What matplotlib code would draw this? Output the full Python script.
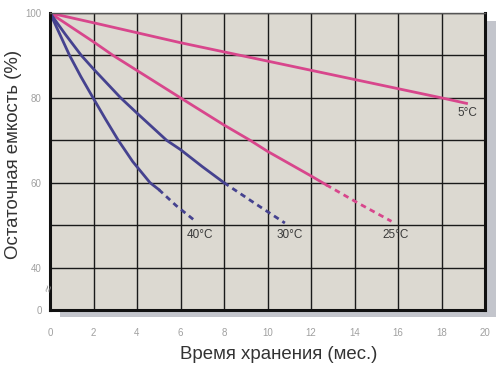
import numpy as np
import matplotlib.pyplot as plt

plt.rcParams['font.family'] = ['Liberation Sans', 'DejaVu Sans']

# 5 C - solid line
t5 = [0, 2, 6, 12, 18, 19.15]
c5 = [100, 97.7, 93, 86.5, 80, 78.7]

# 25 C
t25 = [0, 2, 2.9, 6, 8, 9.2, 10, 12, 12.7]
c25 = [100, 93.2, 90, 80, 73.6, 70, 67.4, 61.6, 59.5]
t25d = [12.7, 14.2, 15.7]
c25d = [59.5, 55.1, 50.9]

# 30 C
t30 = [0, 0.7, 1.44, 2, 3.25, 4, 5.36, 6, 7, 8]
c30 = [100, 95, 90, 86.8, 80, 76.4, 70, 67.8, 63.8, 60]
t30d = [8, 9.4, 10.8]
c30d = [60, 55.2, 50.5]

# 40 C
t40 = [0, 0.45, 0.9, 1.42, 1.98, 2.55, 3.14, 3.8, 4.6, 5.0]
c40 = [100, 95, 90, 85, 80, 75, 70, 65, 60, 58.4]
t40d = [5.0, 5.8, 6.6]
c40d = [58.4, 54.6, 51.3]

labels = ['5°C', '25°C', '30°C', '40°C']
label_x = [19.2, 15.9, 11.0, 6.9]
label_y = [76.4, 47.6, 47.6, 47.6]

xticks = [0, 2, 4, 6, 8, 10, 12, 14, 16, 18, 20]
ygrid = [30, 40, 50, 60, 70, 80, 90, 100]
yticklabels = ['0', '40', '', '60', '', '80', '', '100']

PINK = '#d8468c'
BLUE = '#45428f'

fig = plt.figure(figsize=(4.96, 3.68), dpi=100)

# shadow behind the plot area
shadow = fig.add_axes([60/496, 1-317/368, 436/496, 296/368])
shadow.set_facecolor('#c3c5cc')
shadow.set_xticks([]); shadow.set_yticks([])
for s in shadow.spines.values():
    s.set_visible(False)

ax = fig.add_axes([50/496, 1-310/368, 435/496, 297/368])
ax.set_facecolor('#dcd9d1')
ax.set_xlim(0, 20)
ax.set_ylim(30, 100)
ax.grid(True, color='#1a1a1a', linewidth=1.0)
ax.set_axisbelow(True)

ax.set_xticks(xticks)
ax.set_xticklabels([str(v) for v in xticks])
ax.set_yticks(ygrid)
ax.set_yticklabels(yticklabels)
ax.tick_params(length=0, colors='#a0a0a0', labelsize=7)
ax.tick_params(axis='x', pad=13)
ax.tick_params(axis='y', pad=6)

for s in ['left', 'bottom', 'right']:
    ax.spines[s].set_linewidth(2.2)
    ax.spines[s].set_color('#111111')
ax.spines['top'].set_linewidth(1)
ax.spines['top'].set_color('#555555')

lw = 2.0
ax.plot(t5, c5, color=PINK, lw=lw)
ax.plot(t25, c25, color=PINK, lw=lw)
ax.plot(t25d, c25d, color=PINK, lw=lw, ls=(0, (2, 1.6)))
ax.plot(t30, c30, color=BLUE, lw=lw)
ax.plot(t30d, c30d, color=BLUE, lw=lw, ls=(0, (2, 1.6)))
ax.plot(t40, c40, color=BLUE, lw=lw)
ax.plot(t40d, c40d, color=BLUE, lw=lw, ls=(0, (2, 1.6)))

for lab, x, y in zip(labels, label_x, label_y):
    ax.text(x, y, lab, ha='center', va='center', fontsize=8.5, color='#3a3a3a')

# axis break mark
ax.text(0, 35, '≈', ha='center', va='center', fontsize=9, color='#888888',
        rotation=80, clip_on=False)

ax.set_xlabel('Время хранения (мес.)', fontsize=13.4, color='#333333')
ax.set_ylabel('Остаточная емкость (%)', fontsize=13.4, color='#333333')
ax.xaxis.set_label_coords(229/435, -36/297)
ax.yaxis.set_label_coords(-28/435, 156/297)

fig.savefig('out.png', dpi=100)
